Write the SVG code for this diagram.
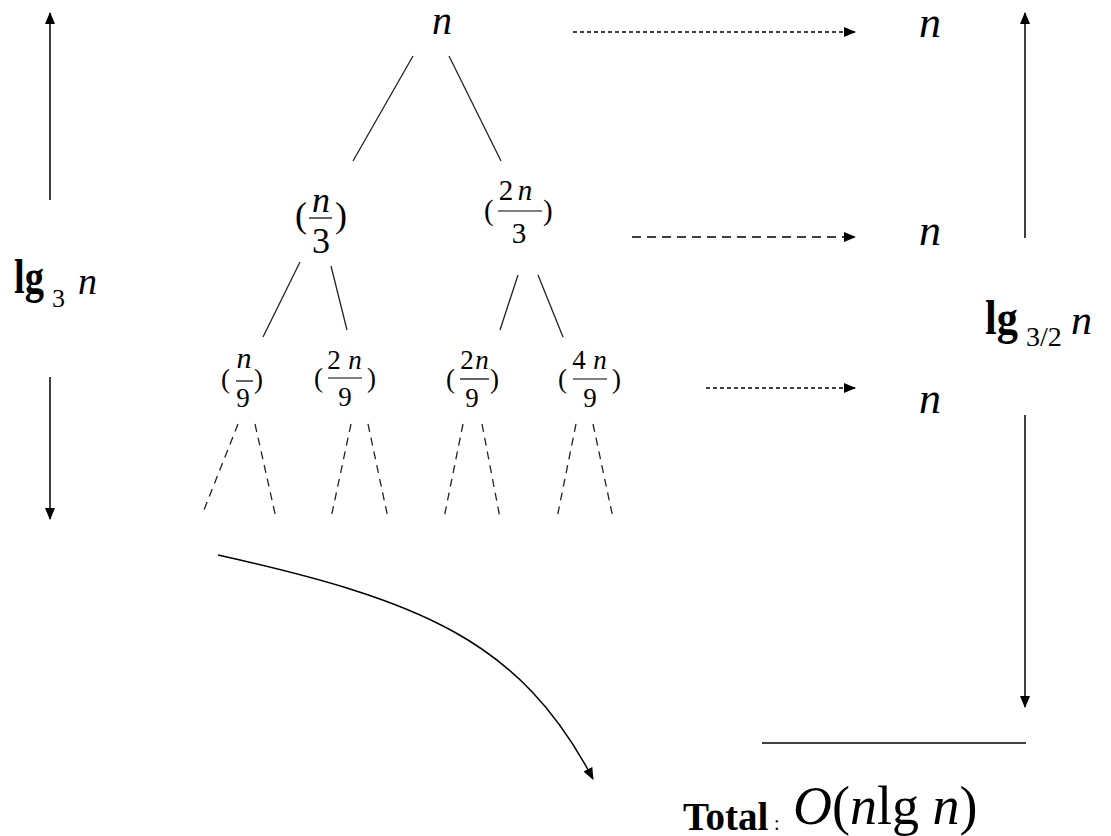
<svg xmlns="http://www.w3.org/2000/svg" width="1111" height="836" viewBox="0 0 1111 836">
<defs>
<style>
text{font-family:"Liberation Serif","Times New Roman",serif;fill:#000}
.it{font-style:italic}
.b{font-weight:bold}
.tree{stroke:#222;stroke-width:1.3;fill:none}
.dash{stroke:#222;stroke-width:1.3;fill:none;stroke-dasharray:8 6}
.arr{stroke:#000;stroke-width:1.5;fill:none}
.bar{stroke:#000;stroke-width:1.2}
</style>
<marker id="ah" markerWidth="12" markerHeight="10" refX="11" refY="5" orient="auto" markerUnits="userSpaceOnUse">
<path d="M0,0 L12,5 L0,10 z" fill="#000"/>
</marker>
</defs>
<rect width="1111" height="836" fill="#fff"/>

<g id="connectors">
<line class="arr" x1="50" y1="200" x2="50" y2="13" marker-end="url(#ah)"/>
<line class="arr" x1="50" y1="377" x2="50" y2="519" marker-end="url(#ah)"/>
<line class="arr" x1="1025" y1="238" x2="1025" y2="13" marker-end="url(#ah)"/>
<line class="arr" x1="1025" y1="415" x2="1025" y2="707" marker-end="url(#ah)"/>
<line class="arr" x1="762" y1="743" x2="1026" y2="743"/>
<line class="arr" x1="573" y1="32" x2="855" y2="32" stroke-dasharray="4 3" marker-end="url(#ah)"/>
<line class="arr" x1="632" y1="237" x2="855" y2="237" stroke-dasharray="9 6" marker-end="url(#ah)"/>
<line class="arr" x1="706" y1="388" x2="855" y2="388" stroke-dasharray="4 3" marker-end="url(#ah)"/>
<path class="arr" d="M218,555 C420,600 520,640 593,779" marker-end="url(#ah)"/>
<line class="tree" x1="413" y1="56" x2="353" y2="161"/>
<line class="tree" x1="449" y1="56" x2="501" y2="161"/>
<line class="tree" x1="300" y1="262" x2="263" y2="337"/>
<line class="tree" x1="331" y1="266" x2="347" y2="330"/>
<line class="tree" x1="518" y1="275" x2="500" y2="330"/>
<line class="tree" x1="538" y1="275" x2="563" y2="337"/>
<line class="dash" x1="238" y1="424" x2="202" y2="515"/>
<line class="dash" x1="255" y1="424" x2="276" y2="518"/>
<line class="dash" x1="351" y1="424" x2="331" y2="518"/>
<line class="dash" x1="368" y1="424" x2="388" y2="518"/>
<line class="dash" x1="463" y1="424" x2="444" y2="518"/>
<line class="dash" x1="482" y1="424" x2="500" y2="518"/>
<line class="dash" x1="576" y1="424" x2="557" y2="518"/>
<line class="dash" x1="593" y1="424" x2="613" y2="518"/>
</g>

<g id="root"><text class="it" x="442" y="34" font-size="40" text-anchor="middle">n</text></g>

<g id="n3">
<text x="295" y="227" font-size="36">(</text>
<text class="it" x="321" y="212" font-size="36" text-anchor="middle">n</text>
<line class="bar" x1="309" y1="218" x2="332" y2="218"/>
<text x="321" y="253" font-size="36" text-anchor="middle">3</text>
<text x="335" y="227" font-size="36">)</text>
</g>

<g id="n2n3">
<text x="484" y="220" font-size="29">(</text>
<text x="506" y="200" font-size="29" text-anchor="middle">2</text>
<text class="it" x="525" y="200" font-size="29" text-anchor="middle">n</text>
<line class="bar" x1="498" y1="211" x2="542" y2="211"/>
<text x="519" y="243" font-size="29" text-anchor="middle">3</text>
<text x="543" y="220" font-size="29">)</text>
</g>

<g id="n9">
<text x="221" y="388" font-size="27">(</text>
<text class="it" x="244" y="368" font-size="30" text-anchor="middle">n</text>
<line class="bar" x1="236" y1="381" x2="253" y2="381"/>
<text x="243" y="407" font-size="27" text-anchor="middle">9</text>
<text x="254" y="388" font-size="27">)</text>
</g>

<g id="n2n9a">
<text x="314" y="387" font-size="27">(</text>
<text x="334" y="369" font-size="27" text-anchor="middle">2</text>
<text class="it" x="355" y="369" font-size="27" text-anchor="middle">n</text>
<line class="bar" x1="328" y1="378" x2="362" y2="378"/>
<text x="345" y="406" font-size="27" text-anchor="middle">9</text>
<text x="367" y="387" font-size="27">)</text>
</g>

<g id="n2n9b">
<text x="446" y="388" font-size="27">(</text>
<text x="467" y="369" font-size="27" text-anchor="middle">2</text>
<text class="it" x="482" y="369" font-size="27" text-anchor="middle">n</text>
<line class="bar" x1="460" y1="379" x2="489" y2="379"/>
<text x="472" y="407" font-size="27" text-anchor="middle">9</text>
<text x="490" y="388" font-size="27">)</text>
</g>

<g id="n4n9">
<text x="558" y="388" font-size="27">(</text>
<text x="579" y="369" font-size="27" text-anchor="middle">4</text>
<text class="it" x="600" y="369" font-size="27" text-anchor="middle">n</text>
<line class="bar" x1="573" y1="379" x2="607" y2="379"/>
<text x="590" y="407" font-size="27" text-anchor="middle">9</text>
<text x="612" y="388" font-size="27">)</text>
</g>

<g id="sum1"><text class="it" x="930" y="37" font-size="44" text-anchor="middle">n</text></g>
<g id="sum2"><text class="it" x="930" y="245" font-size="44" text-anchor="middle">n</text></g>
<g id="sum3"><text class="it" x="930" y="413" font-size="44" text-anchor="middle">n</text></g>

<g id="height-left">
<text class="b" font-size="48" transform="translate(14,293) scale(0.8,1)">lg</text>
<text x="52" y="307" font-size="26">3</text>
<text class="it" x="78" y="294" font-size="38">n</text>
</g>

<g id="height-right">
<text class="b" font-size="48" transform="translate(985,334) scale(0.88,1)">lg</text>
<text x="1026" y="346" font-size="28">3/2</text>
<text class="it" x="1071" y="334" font-size="42">n</text>
</g>

<g id="total">
<text class="b" x="683" y="830" font-size="39">Total</text>
<text x="774" y="830" font-size="20">:</text>
<text x="793" y="824" font-size="54"><tspan class="it">O</tspan>(<tspan class="it">n</tspan>lg <tspan class="it">n</tspan>)</text>
</g>
</svg>
